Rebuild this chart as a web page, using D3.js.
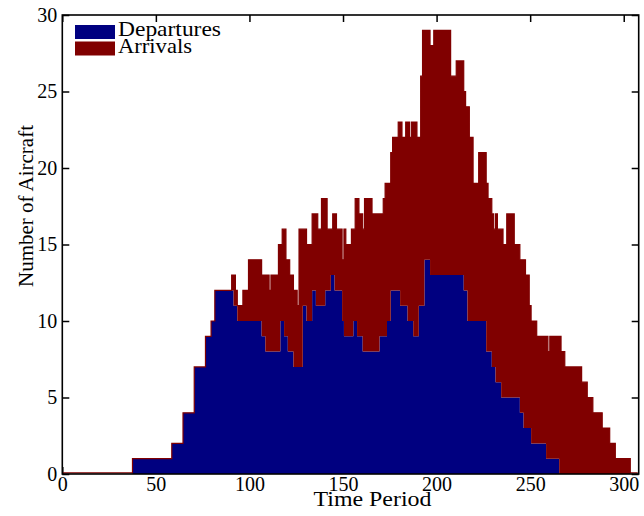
<!DOCTYPE html>
<html>
<head>
<meta charset="utf-8">
<script src="https://cdn.jsdelivr.net/npm/d3@7"></script>
<style>
body { margin: 0; background: #fff; }
svg { display: block; }
text { font-family: "Liberation Serif", "Times New Roman", serif; fill: #000; }
</style>
</head>
<body>
<svg width="644" height="516"></svg>
<script>
// counts per time period, run-length coded: [first period, count],
// the count holds until the next entry starts
var departureRuns = [
  [0, 0], [38, 1], [59, 2], [65, 4], [71, 7], [77, 9], [80, 10], [82, 12], [92, 11], [94, 10],
  [107, 9], [109, 8], [117, 10], [119, 9], [121, 8], [124, 7], [129, 11], [131, 10], [134, 12],
  [136, 11], [141, 12], [144, 13], [146, 12], [150, 10], [151, 9], [156, 10], [158, 9], [161, 8],
  [170, 9], [174, 10], [176, 12], [181, 11], [185, 10], [188, 9], [191, 11], [194, 14], [197, 13],
  [215, 12], [217, 10], [227, 8], [230, 7], [232, 6], [235, 5], [245, 4], [247, 3], [251, 2],
  [259, 1], [266, 0]
];
var arrivalRuns = [
  [0, 0], [91, 1], [92, 2], [93, 1], [97, 2], [100, 4], [109, 5], [111, 4], [112, 5], [116, 7],
  [117, 5], [118, 6], [119, 7], [120, 5], [121, 6], [122, 5], [126, 4], [127, 9], [129, 5],
  [136, 6], [137, 5], [139, 7], [141, 6], [142, 4], [144, 3], [145, 4], [146, 5], [147, 4],
  [151, 7], [152, 6], [155, 7], [156, 6], [157, 8], [158, 9], [159, 8], [162, 10], [166, 9],
  [170, 8], [172, 9], [173, 10], [174, 9], [177, 10], [180, 11], [181, 12], [182, 11], [184, 12],
  [185, 13], [186, 12], [187, 13], [188, 14], [190, 13], [191, 11], [192, 15], [193, 18],
  [194, 15], [199, 16], [208, 13], [211, 14], [215, 13], [216, 12], [217, 14], [218, 12],
  [220, 9], [223, 11], [228, 10], [231, 9], [232, 11], [233, 10], [235, 11], [236, 10],
  [238, 12], [242, 10], [247, 11], [248, 10], [250, 8], [254, 7], [259, 8], [260, 7], [261, 8],
  [266, 9], [267, 8], [269, 7], [278, 6], [281, 5], [284, 4], [289, 3], [293, 2], [296, 1],
  [304, 0]
];
var lastPeriod = 307;
var seriesKeys = ["departures", "arrivals"];
var seriesNames = ["Departures", "Arrivals"];
var seriesColors = ["#000080", "#800000"];
var xTicks = [0, 50, 100, 150, 200, 250, 300];
var yTicks = [0, 5, 10, 15, 20, 25, 30];

var plotLeft = 62.3, plotRight = 638.7, plotTop = 15, plotBottom = 474;

function expand(runs) {
  var out = [], k = 0;
  for (var t = 0; t <= lastPeriod; t++) {
    while (k + 1 < runs.length && runs[k + 1][0] <= t) k++;
    out.push(runs[k][1]);
  }
  return out;
}

var dep = expand(departureRuns), arr = expand(arrivalRuns);
var rows = d3.range(0, lastPeriod + 1).map(function(t) {
  return { period: t, departures: dep[t], arrivals: arr[t] };
});

var x = d3.scaleLinear().domain([0, 308]).range([plotLeft, plotRight]);
var y = d3.scaleLinear().domain([0, 30]).range([plotBottom, plotTop]);

var svg = d3.select("svg");

svg.append("clipPath").attr("id", "plot")
  .append("rect").attr("x", plotLeft).attr("y", plotTop)
  .attr("width", plotRight - plotLeft).attr("height", plotBottom - plotTop);

// bottom ticks sit under the bars
svg.append("g").attr("transform", "translate(0," + plotBottom + ")")
  .call(d3.axisBottom(x).tickValues(xTicks).tickSize(-7).tickPadding(3))
  .call(function(g) {
    g.select(".domain").remove();
    g.selectAll("text").style("font-size", "20px");
  });

var layers = d3.stack().keys(seriesKeys)(rows);

var area = d3.area()
  .x(function(d) { return x(d.x); })
  .y0(function(d) { return y(d.y0); })
  .y1(function(d) { return y(d.y1); })
  .curve(d3.curveStepAfter);

function steps(layer) {
  var pts = layer.map(function(d) { return { x: d.data.period - 0.5, y0: d[0], y1: d[1] }; });
  var last = layer[layer.length - 1];
  pts.push({ x: last.data.period + 0.5, y0: last[0], y1: last[1] });
  return pts;
}

var plot = svg.append("g").attr("clip-path", "url(#plot)");

plot.selectAll("path.layer")
  .data(layers)
  .enter().append("path")
  .attr("class", "layer")
  .attr("fill", function(d, i) { return seriesColors[i]; })
  .attr("d", function(d) { return area(steps(d)); });

// outline of the top of the stack (arrival bar edges)
var topPts = steps(layers[1]);
plot.append("path")
  .attr("fill", "none")
  .attr("stroke", seriesColors[1])
  .attr("stroke-width", 1.2)
  .attr("d", d3.line()
    .x(function(d) { return x(d.x); })
    .y(function(d) { return Math.min(y(d.y1), plotBottom - 1.2); })
    .curve(d3.curveStepAfter)(topPts));

// left, top, right axes with inward ticks
svg.append("g").attr("transform", "translate(" + plotLeft + ",0)")
  .call(d3.axisLeft(y).tickValues(yTicks).tickSize(-7).tickPadding(5))
  .call(function(g) {
    g.select(".domain").remove();
    g.selectAll("text").style("font-size", "20px");
  });

svg.append("g").attr("transform", "translate(0," + plotTop + ")")
  .call(d3.axisTop(x).tickValues(xTicks).tickSize(-7).tickFormat(""))
  .call(function(g) { g.select(".domain").remove(); });

svg.append("g").attr("transform", "translate(" + plotRight + ",0)")
  .call(d3.axisRight(y).tickValues(yTicks).tickSize(-7).tickFormat(""))
  .call(function(g) { g.select(".domain").remove(); });

svg.selectAll(".tick line").attr("stroke", "#000").attr("stroke-width", 1.5);

svg.append("rect")
  .attr("x", plotLeft).attr("y", plotTop)
  .attr("width", plotRight - plotLeft).attr("height", plotBottom - plotTop)
  .attr("fill", "none").attr("stroke", "#000").attr("stroke-width", 1.6);

// legend
var legend = svg.append("g").selectAll("g")
  .data(seriesNames)
  .enter().append("g")
  .attr("transform", function(d, i) { return "translate(75," + (25 + i * 16.5) + ")"; });

legend.append("rect")
  .attr("width", 40).attr("height", 14)
  .attr("fill", function(d, i) { return seriesColors[i]; });

legend.append("text")
  .attr("x", 43).attr("y", 11)
  .attr("textLength", function(d, i) { return i === 0 ? 103 : 74; })
  .attr("lengthAdjust", "spacingAndGlyphs")
  .style("font-size", "21px")
  .text(function(d) { return d; });

// axis titles
svg.append("text")
  .attr("x", 372.5).attr("y", 506)
  .attr("text-anchor", "middle")
  .attr("textLength", 118).attr("lengthAdjust", "spacingAndGlyphs")
  .style("font-size", "21px")
  .text("Time Period");

svg.append("text")
  .attr("transform", "translate(33,206) rotate(-90)")
  .attr("text-anchor", "middle")
  .attr("textLength", 162).attr("lengthAdjust", "spacingAndGlyphs")
  .style("font-size", "21px")
  .text("Number of Aircraft");
</script>
</body>
</html>
